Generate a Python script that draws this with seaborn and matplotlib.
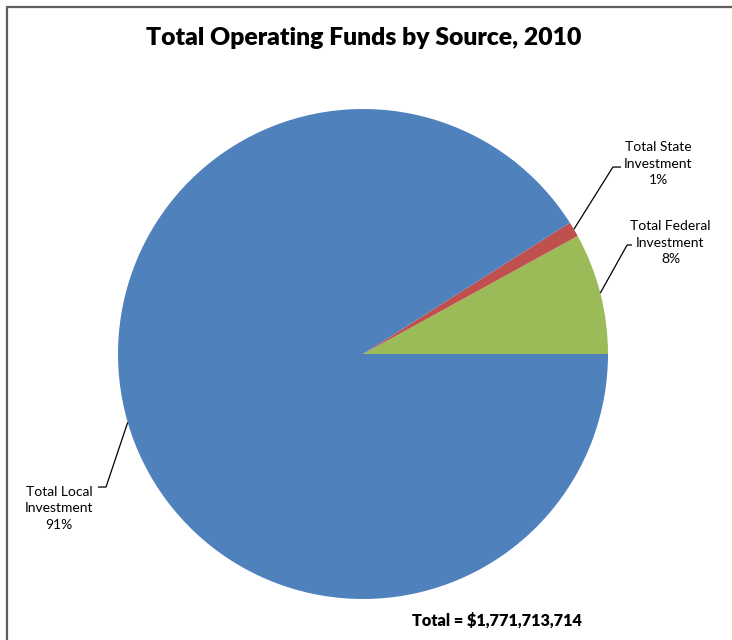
import numpy as np
import matplotlib
matplotlib.use("Agg")
import matplotlib.pyplot as plt
from matplotlib.lines import Line2D
import seaborn as sns

# Funding sources, drawn counter-clockwise from 3 o'clock
sources = ["Total Federal\nInvestment", "Total State\nInvestment", "Total Local\nInvestment"]
shares = [8, 1, 91]
colors = ["#9BBB59", "#C0504D", "#4F81BD"]
title = "Total Operating Funds by Source, 2010"
total_note = "Total = $1,771,713,714"

sns.set_theme(style="white")
plt.rcParams["font.family"] = ["Lato", "DejaVu Sans"]

W, H = 732, 640
fig = plt.figure(figsize=(W / 100, H / 100), dpi=100)
fig.patch.set_facecolor("white")

# square axes holding the pie (center 363,354 px, radius 245 px)
cx, cy, r = 363, 354, 245
ax = fig.add_axes([(cx - r) / W, (H - cy - r) / H, 2 * r / W, 2 * r / H])
wedges, _ = ax.pie(shares, colors=colors, startangle=0, counterclock=True,
                   radius=1.0, wedgeprops=dict(linewidth=0))
ax.set_xlim(-1, 1)
ax.set_ylim(-1, 1)
ax.set_aspect("equal")
ax.axis("off")

# leader-line elbow, elbow end and label centre for each slice (data units)
elbows = [(1.078, 0.445), (1.020, 0.763), (-1.049, -0.543)]
ends = [(1.098, 0.445), (1.053, 0.763), (-1.082, -0.543)]
label_pos = [(1.255, 0.455), (1.206, 0.776), (-1.240, -0.630)]

for w, share, name, el, en, lp in zip(wedges, shares, sources, elbows, ends, label_pos):
    mid = np.deg2rad((w.theta1 + w.theta2) / 2)
    sx, sy = np.cos(mid), np.sin(mid)
    ax.plot([sx, el[0], en[0]], [sy, el[1], en[1]], color="black", lw=0.9,
            clip_on=False, solid_capstyle="butt")
    ax.text(lp[0], lp[1], f"{name}\n{share}%", ha="center", va="center",
            fontsize=10, color="black", linespacing=1.45, clip_on=False)

fig.text(364 / W, 1 - 38 / H, title, ha="center", va="center",
         fontsize=17.8, fontweight="heavy", color="black")
fig.text(497 / W, 1 - 621 / H, total_note, ha="center", va="center",
         fontsize=11.7, fontweight="heavy", color="black")

# chart frame (top and left edges)
frame_col = "#5F5F5F"
fig.add_artist(Line2D([7 / W, 1.0], [1 - 7 / H, 1 - 7 / H], color=frame_col,
                      lw=1.6, transform=fig.transFigure))
fig.add_artist(Line2D([7 / W, 7 / W], [1 - 7 / H, 0.0], color=frame_col,
                      lw=1.6, transform=fig.transFigure))

fig.savefig("out.png", dpi=100, facecolor="white")
